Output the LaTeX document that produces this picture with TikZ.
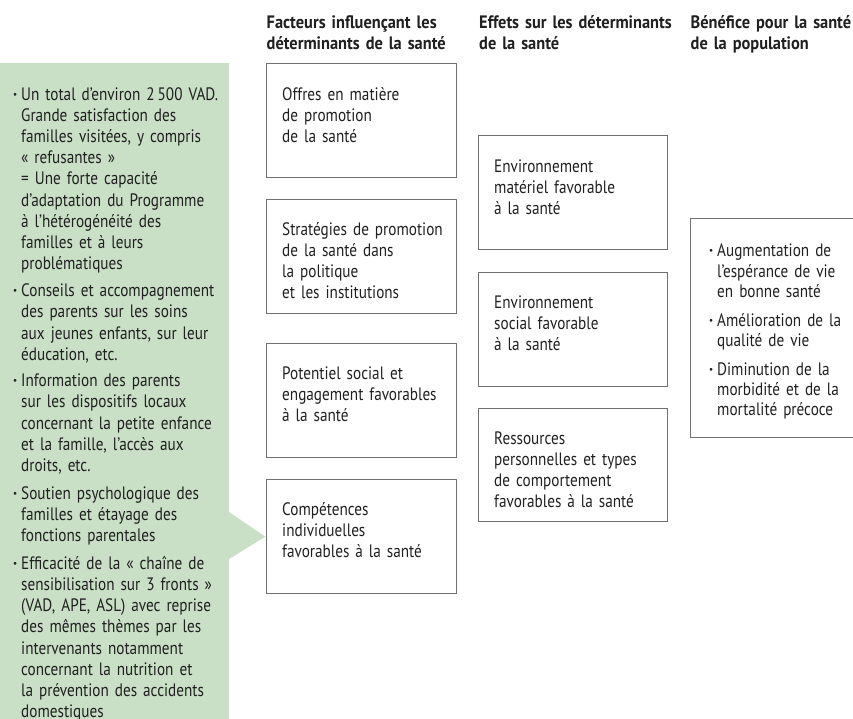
\documentclass[tikz,border=0pt]{standalone}
\usepackage{fontspec}
\setmainfont{PT Sans}[FakeStretch=0.845, BoldFeatures={FakeStretch=0.91}]
\definecolor{leaf}{RGB}{201,224,198}
\definecolor{boxgray}{RGB}{112,112,112}
\definecolor{ink}{RGB}{32,32,32}
\newcommand\bodyfont{\fontsize{18}{21.2}\selectfont}
\newcommand\benefitfont{\fontsize{18}{20.3}\selectfont}
\newcommand\headfont{\fontsize{18}{21}\selectfont\bfseries}
\newcommand\dotmark{\llap{{\bfseries\textperiodcentered}\hspace{4pt}}}
\tikzset{
  box/.style={draw=boxgray, line width=1.3pt, rectangle, anchor=north west,
    minimum width=190pt, minimum height=114pt, inner sep=0pt},
  boxtext/.style={anchor=base west, text width=200pt, align=left,
    inner sep=0pt, font=\bodyfont, text=ink},
  itemtext/.style={boxtext, text width=215pt},
  benefit/.style={boxtext, font=\benefitfont, text width=150pt},
  head/.style={anchor=base west, inner sep=0pt, text width=200pt, align=left,
    font=\headfont, text=ink}
}
\begin{document}
\begin{tikzpicture}[x=1pt, y=-1pt]
\useasboundingbox (0,0) rectangle (853,718);
\clip (0,0) rectangle (853,718);

% column headings
\node[head] (h1) at (266.5,28) {Facteurs influençant les\\déterminants de la santé};
\node[head] (h2) at (479,28) {Effets sur les déterminants\\de la santé};
\node[head] (h3) at (690.5,28) {Bénéfice pour la santé\\de la population};

% factors
\node[box] (f1) at (266,63) {};
\node[box] (f2) at (266,199) {};
\node[box] (f3) at (266,343) {};
\node[box] (f4) at (266,479) {};
\node[boxtext] (f1t) at ([shift={(16,37)}]f1.north west) {Offres en matière\\de promotion\\de la santé};
\node[boxtext] (f2t) at ([shift={(16,36)}]f2.north west) {Stratégies de promotion\\de la santé dans\\la politique\\et les institutions};
\node[boxtext] (f3t) at ([shift={(16,36)}]f3.north west) {Potentiel social et\\engagement favorables\\à la santé};
\node[boxtext] (f4t) at ([shift={(16,36)}]f4.north west) {Compétences\\individuelles\\favorables à la santé};

% effects
\node[box, minimum width=189pt] (e1) at (478,135) {};
\node[box, minimum width=189pt] (e2) at (478,272) {};
\node[box, minimum width=189pt, minimum height=113pt] (e3) at (478,408) {};
\node[boxtext] (e1t) at ([shift={(16,37)}]e1.north west) {Environnement\\matériel favorable\\à la santé};
\node[boxtext] (e2t) at ([shift={(16,36)}]e2.north west) {Environnement\\social favorable\\à la santé};
\node[boxtext] (e3t) at ([shift={(16,36)}]e3.north west) {Ressources\\personnelles et types\\de comportement\\favorables à la santé};

% population benefit
\node[box, minimum width=200pt, minimum height=219pt] (b1) at (690,218) {};
\node[benefit] (b1a) at (717,256.7) {\dotmark Augmentation de\\l’espérance de vie\\en bonne santé};
\node[benefit] (b1b) at (717,326) {\dotmark Amélioration de la\\qualité de vie};
\node[benefit] (b1c) at (717,375) {\dotmark Diminution de la\\morbidité et de la\\mortalité précoce};

% programme results, pointing at individual skills
\coordinate (pTop) at (229,512);
\coordinate (pBot) at (229,559);
\fill[leaf] (0,63) -- (229,63) -- (pTop) -- ([xshift=-0.6pt]f4.west) -- (pBot)
  -- (229,730) -- (0,730) -- cycle;
\node[itemtext] (g1) at (21,100) {\dotmark Un total d’environ 2\,500 VAD.\\Grande satisfaction des\\familles visitées, y compris\\«~refusantes~»\\= Une forte capacité\\d’adaptation du Programme\\à l’hétérogénéité des\\familles et à leurs\\problématiques};
\node[itemtext] (g2) at (21,296.7) {\dotmark Conseils et accompagnement\\des parents sur les soins\\aux jeunes enfants, sur leur\\éducation, etc.};
\node[itemtext] (g3) at (21,386.7) {\dotmark Information des parents\\sur les dispositifs locaux\\concernant la petite enfance\\et la famille, l’accès aux\\droits, etc.};
\node[itemtext] (g4) at (21,499) {\dotmark Soutien psychologique des\\familles et étayage des\\fonctions parentales};
\node[itemtext] (g5) at (21,569.3) {\dotmark Efficacité de la «~chaîne de\\sensibilisation sur 3 fronts~»\\(VAD, APE, ASL) avec reprise\\des mêmes thèmes par les\\intervenants notamment\\concernant la nutrition et\\la prévention des accidents\\domestiques};
\end{tikzpicture}
\end{document}
